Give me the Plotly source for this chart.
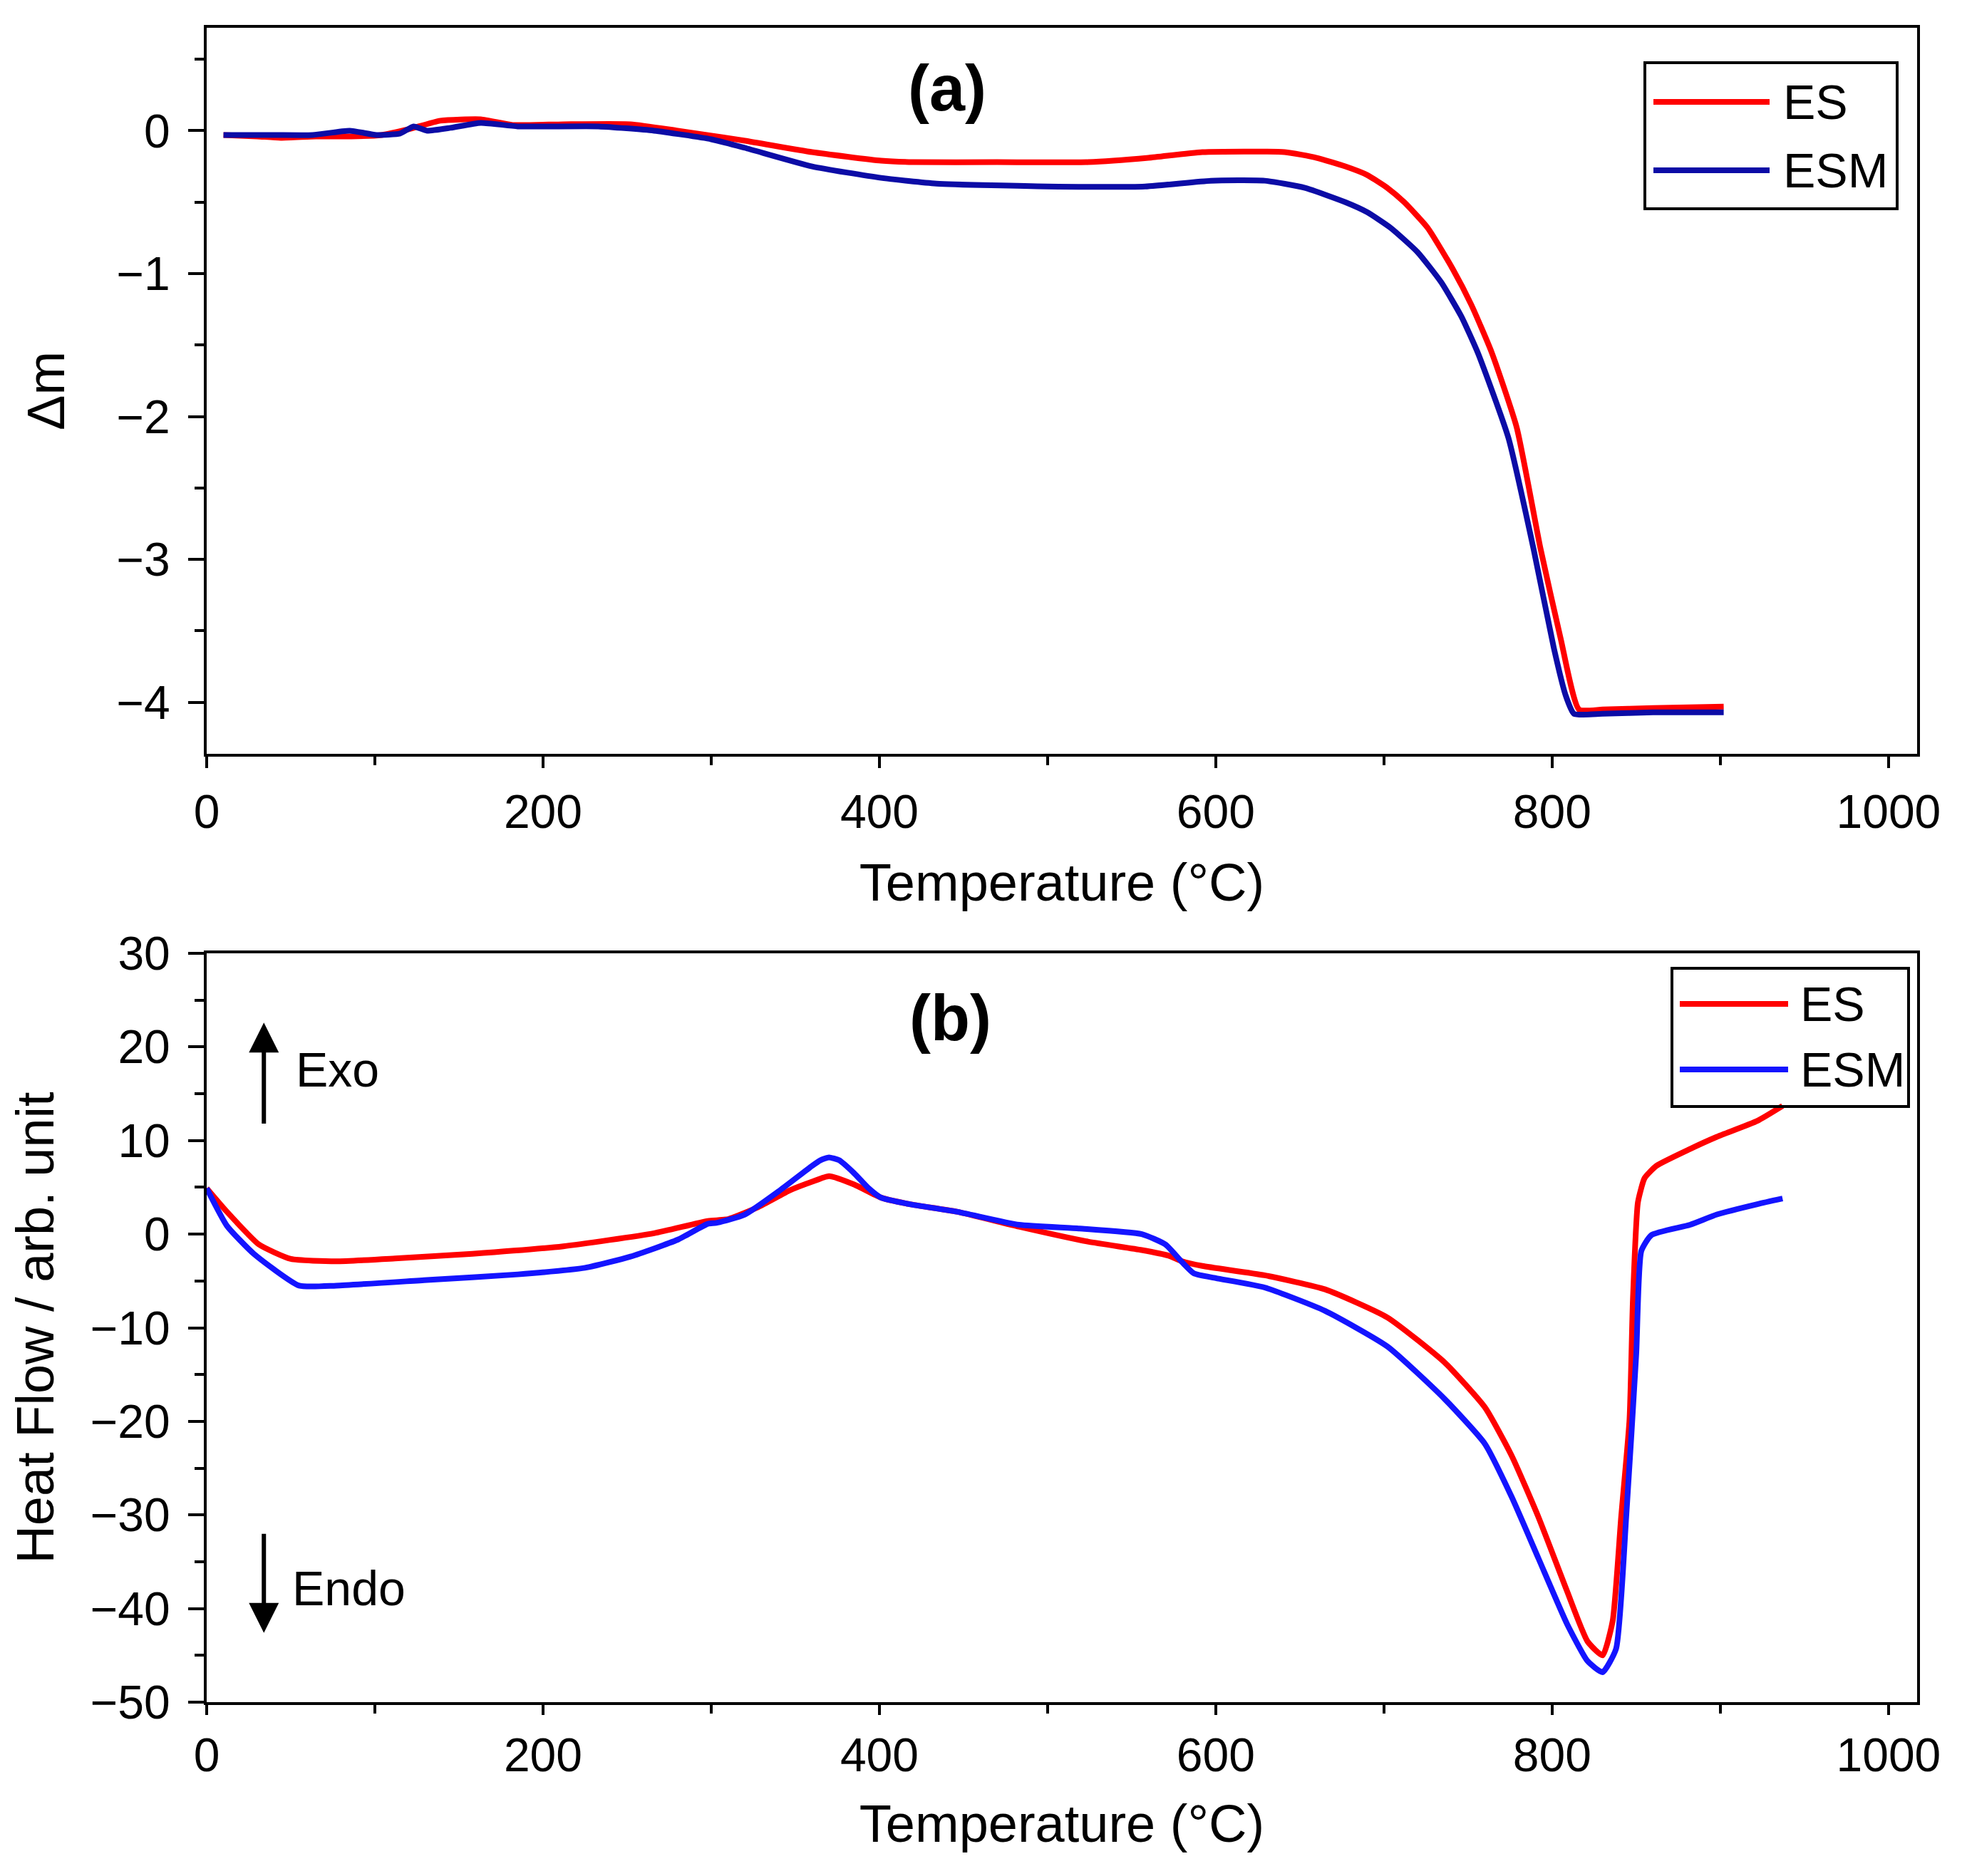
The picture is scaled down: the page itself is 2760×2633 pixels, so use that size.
import plotly.graph_objects as go

# ---------------- data ----------------
# Panel (a): TG mass change
es_T_a = [10, 30, 44, 65, 86, 104, 120, 139, 163, 182, 212, 252, 280, 320, 360, 401, 420, 470,
          524, 560, 592, 641, 660, 677, 690, 702, 712, 726, 741, 752, 764, 779, 793, 805, 816,
          830, 860, 902]
es_dm_a = [-0.03, -0.04, -0.05, -0.04, -0.04, -0.03, 0.01, 0.07, 0.08, 0.04, 0.045, 0.045, 0.0,
           -0.07, -0.15, -0.21, -0.22, -0.22, -0.22, -0.19, -0.15, -0.15, -0.19, -0.25, -0.31,
           -0.40, -0.50, -0.68, -0.97, -1.22, -1.55, -2.08, -2.92, -3.55, -4.05, -4.05, -4.04,
           -4.03]

esm_T_a = [10, 40, 63, 85, 101, 115, 123, 131, 145, 163, 185, 233, 266, 300, 320, 360, 401, 434,
           500, 558, 597, 629, 653, 677, 690, 704, 720, 734, 746, 756, 774, 789, 801, 808, 813,
           830, 860, 902]
esm_dm_a = [-0.03, -0.03, -0.03, 0.0, -0.03, -0.02, 0.03, 0.0, 0.02, 0.055, 0.03, 0.03, 0.0,
            -0.06, -0.12, -0.25, -0.33, -0.37, -0.39, -0.39, -0.35, -0.35, -0.40, -0.50, -0.57,
            -0.68, -0.85, -1.06, -1.30, -1.56, -2.15, -2.93, -3.62, -3.95, -4.08, -4.08, -4.07,
            -4.07]

# Panel (b): DSC heat flow
es_T_b = [0, 12, 31, 50, 77, 112, 158, 212, 266, 298, 310, 328, 347, 360, 370, 385, 401, 418,
          446, 483, 524, 556, 572, 580, 592, 629, 665, 702, 736, 760, 776, 792, 809, 821, 830,
          836, 841, 846, 848, 851, 855, 862, 882, 898, 922, 937]
es_hf_b = [4.9, 2.4, -1.1, -2.65, -2.9, -2.6, -2.1, -1.3, 0.1, 1.4, 1.6, 2.9, 4.7, 5.6, 6.2,
           5.3, 3.9, 3.2, 2.4, 0.8, -0.8, -1.7, -2.3, -2.9, -3.4, -4.4, -5.9, -8.9, -13.7,
           -18.5, -23.7, -30.3, -38.2, -43.5, -45.0, -41.3, -30.3, -19.8, -7.1, 3.4, 6.0, 7.3,
           9.1, 10.4, 12.1, 13.7]

esm_T_b = [0, 12, 28, 55, 77, 131, 185, 225, 252, 280, 298, 303, 320, 341, 360, 365, 370, 376,
           385, 393, 401, 418, 446, 483, 519, 556, 570, 580, 587, 600, 629, 665, 702, 736, 760,
           776, 792, 809, 821, 830, 838, 844, 850, 853, 859, 882, 898, 922, 937]
esm_hf_b = [4.9, 0.9, -2.1, -5.5, -5.5, -4.9, -4.3, -3.6, -2.4, -0.6, 1.1, 1.2, 2.1, 4.7, 7.3,
            7.9, 8.2, 7.9, 6.5, 5.0, 3.9, 3.2, 2.4, 1.0, 0.6, 0.0, -1.1, -3.0, -4.2, -4.7, -5.7,
            -8.2, -12.0, -17.6, -22.4, -28.1, -34.7, -41.7, -45.6, -46.8, -44.3, -30.3, -12.8,
            -1.8, -0.1, 1.0, 2.1, 3.2, 3.8]

series_names = ["ES", "ESM"]
x_ticks = [0, 200, 400, 600, 800, 1000]
y_ticks_a = [-4, -3, -2, -1, 0]
y_ticks_b = [-50, -40, -30, -20, -10, 0, 10, 20, 30]

# ---------------- style ----------------
W, H = 2760, 2633
FONT = "Liberation Sans Narrow, Arial Narrow, Liberation Sans, Arial, sans-serif"
RED = "#FF0000"
NAVY = "#0C0CA6"
BLUE = "#1414FF"
TICK_SIZE = 66
TITLE_SIZE = 74
TEXT_SIZE = 68

def px_x(p):
    return p / W

def px_y(p):
    return 1 - p / H

fig = go.Figure()
LS = dict(shape="spline", smoothing=0.5)
fig.add_trace(go.Scatter(x=es_T_a, y=es_dm_a, mode="lines", name=series_names[0],
                         line=dict(color=RED, width=8, **LS), xaxis="x", yaxis="y",
                         showlegend=False))
fig.add_trace(go.Scatter(x=esm_T_a, y=esm_dm_a, mode="lines", name=series_names[1],
                         line=dict(color=NAVY, width=8, **LS), xaxis="x", yaxis="y",
                         showlegend=False))
fig.add_trace(go.Scatter(x=es_T_b, y=es_hf_b, mode="lines", name=series_names[0],
                         line=dict(color=RED, width=8, **LS), xaxis="x2", yaxis="y2",
                         showlegend=False))
fig.add_trace(go.Scatter(x=esm_T_b, y=esm_hf_b, mode="lines", name=series_names[1],
                         line=dict(color=BLUE, width=8, **LS), xaxis="x2", yaxis="y2",
                         showlegend=False))

xdom = [px_x(290), px_x(2690)]
ydom_a = [px_y(1058), px_y(39)]
ydom_b = [px_y(2389), px_y(1338)]

common_axis = dict(
    showline=True, linecolor="black", linewidth=4, mirror=True,
    ticks="outside", ticklen=22, tickwidth=4, tickcolor="black",
    showgrid=False, zeroline=False, automargin=False,
    tickfont=dict(family=FONT, size=TICK_SIZE, color="black"),
    title_font=dict(family=FONT, size=TITLE_SIZE, color="black"),
)

def xaxis(anchor, domain, ticklen, lab_standoff, title_standoff):
    return dict(common_axis, anchor=anchor, domain=domain, range=[0, 1017],
                tickvals=x_ticks, ticktext=[str(v) for v in x_ticks], ticklen=ticklen,
                minor=dict(dtick=100, tick0=0, ticks="outside", ticklen=12, tickwidth=4,
                           tickcolor="black"),
                title=dict(text="Temperature (°C)", standoff=title_standoff),
                ticklabelstandoff=lab_standoff)

def yaxis(anchor, domain, rng, ticks, minor_dt, title, standoff):
    return dict(common_axis, anchor=anchor, domain=domain, range=rng,
                tickvals=ticks,
                minor=dict(dtick=minor_dt, tick0=0, ticks="outside", ticklen=13, tickwidth=4,
                           tickcolor="black"),
                title=dict(text=title, standoff=standoff),
                ticklabelstandoff=12)

layout = dict(
    width=W, height=H,
    margin=dict(l=0, r=0, t=0, b=0, pad=0, autoexpand=False),
    paper_bgcolor="white", plot_bgcolor="white",
    font=dict(family=FONT, color="black"),
    xaxis=xaxis("y", xdom, 16, 5, 38),
    yaxis=yaxis("x", ydom_a, [-4.36, 0.72], y_ticks_a, 0.5, "Δm", 50),
    xaxis2=xaxis("y2", xdom, 14, 0, 35),
    yaxis2=yaxis("x2", ydom_b, [-50, 30], y_ticks_b, 5, "Heat Flow / arb. unit", 28),
)
fig.update_layout(**layout)

shapes = []
annotations = []

# panel labels
annotations.append(dict(xref="paper", yref="paper", x=px_x(1329), y=px_y(124), text="<b>(a)</b>",
                        showarrow=False, font=dict(family=FONT, size=90, color="black"),
                        xanchor="center", yanchor="middle"))
annotations.append(dict(xref="paper", yref="paper", x=px_x(1333), y=px_y(1429), text="<b>(b)</b>",
                        showarrow=False, font=dict(family=FONT, size=90, color="black"),
                        xanchor="center", yanchor="middle"))

# custom legends
def legend(box, line_x, ys, text_x, colors, width):
    x0, x1, y0, y1 = box
    shapes.append(dict(type="rect", xref="paper", yref="paper",
                       x0=px_x(x0), x1=px_x(x1), y0=px_y(y1), y1=px_y(y0),
                       line=dict(color="black", width=4), fillcolor="rgba(0,0,0,0)"))
    for name, yy, col in zip(series_names, ys, colors):
        shapes.append(dict(type="line", xref="paper", yref="paper",
                           x0=px_x(line_x[0]), x1=px_x(line_x[1]), y0=px_y(yy), y1=px_y(yy),
                           line=dict(color=col, width=width)))
        annotations.append(dict(xref="paper", yref="paper", x=px_x(text_x), y=px_y(yy),
                                text=name, showarrow=False, xanchor="left", yanchor="middle",
                                font=dict(family=FONT, size=TEXT_SIZE, color="black")))

legend((2308, 2662, 88, 293), (2320, 2483), (143, 239), 2500, (RED, NAVY), 8)
legend((2346, 2678, 1359, 1553), (2357, 2509), (1409, 1501), 2524, (RED, BLUE), 8)

# Exo / Endo arrows
annotations.append(dict(xref="x2", yref="y2", axref="x2", ayref="y2",
                        x=34, y=22.6, ax=34, ay=11.7, text="", showarrow=True,
                        arrowhead=2, arrowsize=1.4, arrowwidth=6, arrowcolor="black"))
annotations.append(dict(xref="x2", yref="y2", axref="x2", ayref="y2",
                        x=34, y=-42.6, ax=34, ay=-31.9, text="", showarrow=True,
                        arrowhead=2, arrowsize=1.4, arrowwidth=6, arrowcolor="black"))
annotations.append(dict(xref="x2", yref="y2", x=52, y=17.6, text="Exo", showarrow=False,
                        xanchor="left", yanchor="middle",
                        font=dict(family=FONT, size=TEXT_SIZE, color="black")))
annotations.append(dict(xref="x2", yref="y2", x=50, y=-37.8, text="Endo", showarrow=False,
                        xanchor="left", yanchor="middle",
                        font=dict(family=FONT, size=TEXT_SIZE, color="black")))

fig.update_layout(shapes=shapes, annotations=annotations)

fig.write_html("out.html")
